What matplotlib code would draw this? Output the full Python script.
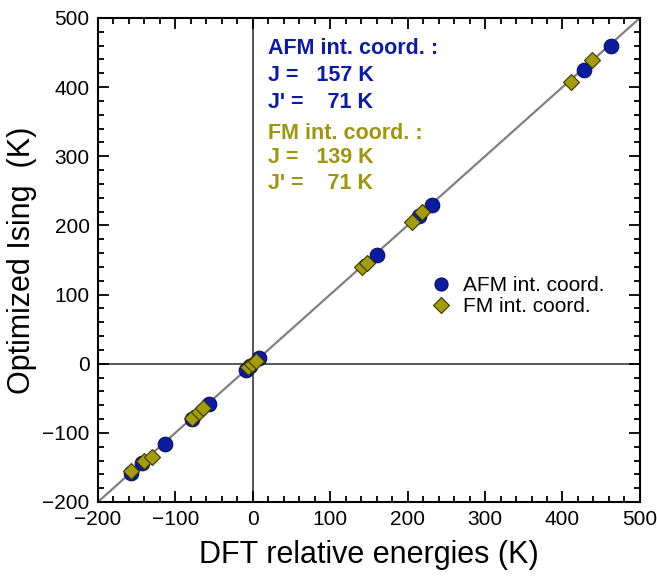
import numpy as np
import matplotlib.pyplot as plt
from matplotlib.ticker import MultipleLocator

plt.rcParams['font.family'] = ['Liberation Sans', 'DejaVu Sans']

# DFT relative energies vs. optimized Ising energies (K)
afm_dft = [-157, -143, -113, -79, -57, -9, -3, 8, 160, 215, 231, 428, 463]
afm_ising = [-158, -143, -116, -80, -58, -9, -3, 8, 157, 213, 230, 425, 460]

fm_dft = [-157, -141, -130, -78, -70, -64, -6, -1, 4, 141, 147, 206, 219, 411, 438]
fm_ising = [-155, -141, -135, -78, -70, -64, -5, 0, 4, 140, 146, 205, 219, 408, 439]

afm_J, afm_Jp = 157, 71
fm_J, fm_Jp = 139, 71

blue = '#0b1c9e'
olive = '#a39c0e'
olive_txt = '#9c9612'

fig = plt.figure(figsize=(6.57, 5.79), dpi=100)
ax = fig.add_axes([0.149, 0.133, 0.825, 0.836])

lims = [-200, 500]
ax.plot(lims, lims, color='#808080', lw=1.6, zorder=1)
ax.axhline(0, color='#555555', lw=1.4, zorder=1)
ax.axvline(0, color='#555555', lw=1.4, zorder=1)

ax.plot(afm_dft, afm_ising, 'o', ms=10.5, color=blue, mec='#06105a', mew=0.8,
        ls='none', label='AFM int. coord.', zorder=3)
ax.plot(fm_dft, fm_ising, 'D', ms=8.5, color=olive, mec='#3a3600', mew=0.8,
        ls='none', label='FM int. coord.', zorder=4)

ax.set_xlim(lims)
ax.set_ylim(lims)
ax.xaxis.set_major_locator(MultipleLocator(100))
ax.yaxis.set_major_locator(MultipleLocator(100))
ax.xaxis.set_minor_locator(MultipleLocator(20))
ax.yaxis.set_minor_locator(MultipleLocator(20))
ax.tick_params(which='both', direction='in', top=True, right=True, width=1.3)
ax.tick_params(which='major', length=8, labelsize=15, pad=6)
ax.tick_params(which='minor', length=4)
for s in ax.spines.values():
    s.set_linewidth(1.5)

ax.set_xlabel('DFT relative energies (K)', fontsize=22, labelpad=8)
ax.set_ylabel('Optimized Ising  (K)', fontsize=22, labelpad=4)

# J values for each coordinate set
tx = 0.314
lines = [
    (0.936, 'AFM int. coord. :', blue),
    (0.882, 'J =   %d K' % afm_J, blue),
    (0.826, "J' =    %d K" % afm_Jp, blue),
    (0.762, 'FM int. coord. :', olive_txt),
    (0.711, 'J =   %d K' % fm_J, olive_txt),
    (0.659, "J' =    %d K" % fm_Jp, olive_txt),
]
for ty, s, c in lines:
    ax.text(tx, ty, s, transform=ax.transAxes, color=c,
            fontsize=15.5, fontweight='bold', va='center')

ax.legend(loc='center left', bbox_to_anchor=(0.57, 0.425), frameon=False,
          fontsize=15, handletextpad=0.3, labelspacing=0.1, markerscale=0.9,
          handlelength=1.5)

fig.savefig('out.png', dpi=100)
